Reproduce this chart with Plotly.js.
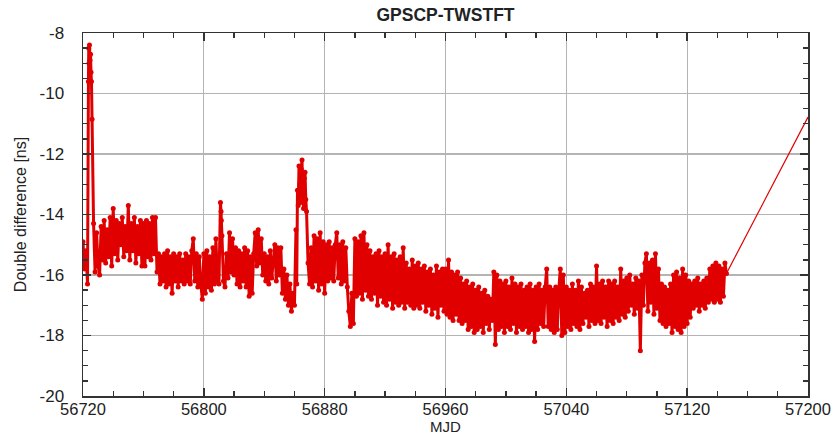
<!DOCTYPE html>
<html>
<head>
<meta charset="utf-8">
<script src="https://cdn.plot.ly/plotly-3.0.1.min.js"></script>
<style>html,body{margin:0;padding:0;background:#fff;}#chart{width:835px;height:436px;}</style>
</head>
<body>
<div id="chart"></div>
<script>
// MJD of first daily sample
const startMJD = 56720;
// Daily double-difference values [ns], MJD 56720 ... 57146 (one per day)
const dailyValues = [
  -14.9,-15.8,-15.2,-16.3,-9.0,-8.7,-10.85,-14.3,-15.9,-14.6,
  -15.7,-16.0,-14.4,-15.5,-14.2,-15.6,-14.5,-15.4,-14.1,-15.7,
  -13.8,-15.3,-14.2,-15.5,-14.3,-15.0,-14.1,-15.4,-14.4,-15.2,
  -13.7,-15.5,-14.3,-15.2,-14.1,-15.6,-14.4,-15.3,-14.2,-15.7,
  -14.3,-15.7,-14.2,-15.4,-14.3,-15.5,-14.1,-15.3,-14.1,-15.9,
  -15.3,-16.3,-15.4,-16.2,-15.3,-16.4,-15.2,-16.3,-15.4,-16.6,
  -15.3,-16.2,-15.4,-16.4,-15.3,-16.2,-15.5,-16.3,-15.3,-16.2,
  -15.4,-16.3,-15.2,-14.8,-16.2,-15.3,-16.4,-15.4,-16.3,-16.8,
  -15.3,-16.6,-15.2,-16.4,-15.4,-16.5,-15.1,-16.3,-14.8,-16.2,
  -16.3,-13.6,-14.7,-16.2,-16.4,-15.3,-16.1,-14.6,-15.9,-14.8,
  -16.0,-15.1,-16.3,-15.2,-16.4,-15.3,-16.2,-15.1,-16.4,-15.2,
  -16.7,-15.4,-16.6,-15.3,-14.6,-15.7,-14.5,-15.6,-14.8,-16.0,
  -15.3,-16.2,-15.4,-16.3,-15.2,-16.1,-15.5,-15.0,-16.2,-15.1,
  -16.0,-15.1,-16.6,-15.8,-16.8,-16.0,-17.0,-16.3,-17.2,-16.6,
  -17.0,-14.5,-13.2,-12.4,-13.6,-12.2,-13.8,-12.6,-13.9,-15.6,
  -16.3,-15.1,-16.4,-14.7,-16.2,-14.8,-16.5,-14.6,-16.3,-14.9,
  -16.6,-15.0,-16.2,-14.9,-16.1,-15.1,-16.2,-15.0,-14.6,-16.1,
  -15.0,-16.3,-14.9,-16.2,-15.1,-16.4,-17.2,-17.7,-16.6,-17.6,
  -14.8,-16.7,-14.9,-16.6,-14.7,-16.8,-14.6,-16.5,-15.0,-16.7,
  -15.2,-16.8,-15.4,-16.6,-15.3,-17.0,-15.2,-16.7,-15.4,-16.9,
  -15.3,-17.0,-15.0,-16.8,-15.4,-17.1,-15.3,-16.9,-15.5,-17.0,
  -15.4,-16.9,-15.1,-17.1,-15.6,-16.9,-15.8,-17.0,-15.5,-17.1,
  -15.7,-17.0,-15.6,-17.1,-15.8,-16.9,-15.7,-17.2,-15.9,-17.0,
  -15.8,-17.3,-16.0,-17.1,-15.7,-17.4,-15.9,-17.0,-15.8,-17.2,
  -15.8,-17.3,-15.5,-17.4,-15.9,-17.5,-16.0,-17.3,-15.9,-17.5,
  -16.1,-17.6,-16.3,-17.5,-16.2,-17.8,-16.4,-17.7,-16.3,-17.9,
  -16.5,-17.8,-16.4,-17.7,-16.6,-17.9,-16.5,-17.6,-16.7,-17.8,
  -16.8,-17.5,-15.9,-18.3,-16.0,-17.8,-16.2,-17.7,-16.3,-17.9,
  -16.2,-17.7,-16.4,-17.8,-16.1,-17.6,-16.3,-17.9,-16.4,-17.7,
  -16.3,-17.8,-16.5,-17.7,-16.4,-17.9,-16.3,-17.8,-16.5,-18.2,
  -16.4,-17.8,-16.3,-17.6,-16.5,-17.7,-16.4,-15.8,-17.7,-16.4,
  -17.8,-16.5,-17.9,-16.4,-17.8,-16.5,-15.8,-18.0,-16.0,-17.9,
  -16.4,-17.7,-16.5,-17.8,-16.3,-17.6,-16.5,-17.7,-16.2,-17.8,
  -16.4,-17.6,-16.6,-17.4,-16.5,-17.7,-16.3,-17.5,-16.4,-17.6,
  -15.7,-17.5,-16.3,-17.6,-16.2,-17.4,-16.4,-17.7,-16.2,-17.5,
  -16.3,-17.6,-16.2,-17.4,-16.4,-17.5,-15.8,-17.3,-16.2,-17.4,
  -16.1,-17.2,-16.0,-17.0,-16.3,-17.3,-16.1,-17.1,-16.2,-18.5,
  -16.0,-17.0,-15.6,-15.3,-17.2,-15.6,-16.9,-15.5,-17.3,-15.3,
  -17.1,-15.8,-17.5,-16.3,-17.6,-16.4,-17.7,-16.5,-17.6,-16.3,
  -17.9,-16.0,-17.7,-15.9,-17.8,-16.1,-17.9,-15.8,-17.7,-16.0,
  -17.6,-16.2,-17.4,-16.3,-17.1,-16.2,-17.0,-16.1,-17.2,-16.3,
  -17.0,-16.2,-17.1,-16.1,-16.9,-15.8,-16.8,-15.7,-16.9,-15.6,
  -16.8,-15.7,-16.9,-15.8,-16.7,-15.6,-15.95
];
// Extra sub-daily samples (jumps / humps)
const extraMJD = [56723.6,56723.8,56724.3,56724.6,56725.3,56725.6,56811.4,56811.6,56861.5,56862.5,56863.5,56864.5,56865.5,56866.5,56867.5];
const extraValues = [-9.6,-8.5,-8.4,-8.9,-9.3,-9.6,-13.9,-14.2,-16.3,-13.7,-13.0,-12.5,-13.3,-12.8,-13.5];
// Last point, after the data gap
const finalMJD = [57200];
const finalValue = [-10.78];

// axis tick values / labels
const xTickVals = [56720,56800,56880,56960,57040,57120,57200];
const xTickText = ['56720','56800','56880','56960','57040','57120','57200'];
const yTickVals = [-20,-18,-16,-14,-12,-10,-8];
const yTickText = ['-20','-18','-16','-14','-12','-10','-8'];

const pts = [];
dailyValues.forEach((v,i)=>pts.push([startMJD+i, v]));
extraMJD.forEach((m,i)=>pts.push([m, extraValues[i]]));
pts.sort((a,b)=>a[0]-b[0]);
const last = pts[pts.length-1];

const red = '#e00000';
const trace = {
  x: pts.map(p=>p[0]), y: pts.map(p=>p[1]),
  type:'scatter', mode:'lines+markers',
  line:{color:red, width:3, simplify:false},
  marker:{color:red, size:5},
  hoverinfo:'none'
};
const tail = {
  x:[last[0]].concat(finalMJD), y:[last[1]].concat(finalValue),
  type:'scatter', mode:'lines', line:{color:red, width:1.2}, hoverinfo:'none'
};
const fontFam = 'Liberation Sans, Arial, sans-serif';
const layout = {
  width:835, height:436,
  margin:{l:83, r:27, t:33, b:40},
  paper_bgcolor:'#fff', plot_bgcolor:'#fff',
  showlegend:false,
  font:{family:fontFam, color:'#222'},
  title:{text:'<b>GPSCP-TWSTFT</b>', font:{size:17.5, family:fontFam, color:'#222'}, x:0.5, xref:'paper', y:0.965, yref:'container', yanchor:'middle'},
  xaxis:{
    range:[56720,57200], tickmode:'array', tickvals:xTickVals, ticktext:xTickText,
    ticks:'inside', ticklen:8, tickwidth:1.5, tickcolor:'#333',
    showline:true, linecolor:'#333', linewidth:1.5, mirror:'ticks',
    showgrid:true, gridcolor:'#b4b4b4', gridwidth:1.3, zeroline:false,
    tickfont:{size:16.5, family:fontFam, color:'#222'},
    ticklabelstandoff:-2,
    minor:{tick0:56720, dtick:20, ticks:'inside', ticklen:5, tickwidth:1.3, tickcolor:'#333', showgrid:false},
    title:{text:'MJD', font:{size:15, family:fontFam, color:'#222'}, standoff:0}
  },
  yaxis:{
    range:[-20,-8], tickmode:'array', tickvals:yTickVals, ticktext:yTickText,
    ticks:'inside', ticklen:8, tickwidth:1.5, tickcolor:'#333',
    showline:true, linecolor:'#333', linewidth:1.5, mirror:'ticks',
    showgrid:true, gridcolor:'#b4b4b4', gridwidth:1.3, zeroline:false,
    tickfont:{size:17, family:fontFam, color:'#222'},
    ticklabelstandoff:14,
    minor:{tick0:-20, dtick:0.5, ticks:'inside', ticklen:5, tickwidth:1.3, tickcolor:'#333', showgrid:false},
    title:{text:'Double difference [ns]', font:{size:16, family:fontFam, color:'#222'}, standoff:9}
  }
};
Plotly.newPlot('chart',[trace, tail],layout,{staticPlot:true, displayModeBar:false});
</script>
</body>
</html>
